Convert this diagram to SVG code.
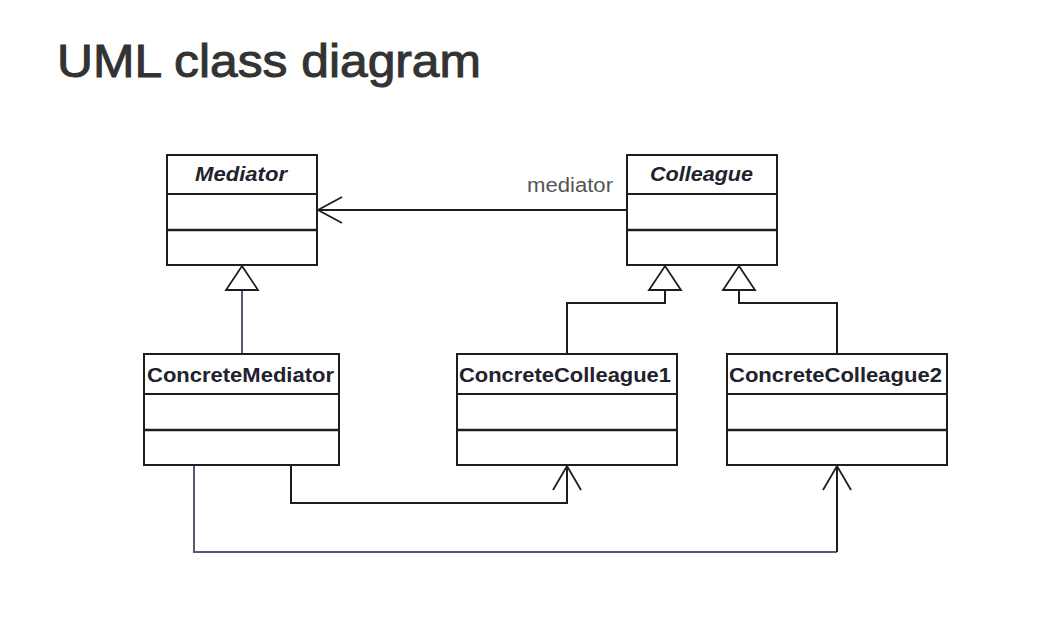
<svg xmlns="http://www.w3.org/2000/svg" width="1050" height="630" viewBox="0 0 1050 630">
<style>
.box{fill:#fff;stroke:#1e1e1e;stroke-width:2}
.div{stroke:#1e1e1e;stroke-width:2}
.div2{stroke:#1e1e1e;stroke-width:2.6}
.cn{font-family:"Liberation Sans",Arial,sans-serif;font-weight:bold;font-size:20px;fill:#22222e}
.abs{font-style:italic}
.ln{fill:none;stroke:#1e1e1e;stroke-width:2}
.ln2{fill:none;stroke:#555a72;stroke-width:2}
.tri{fill:#fff;stroke:#1e1e1e;stroke-width:1.8}
.arr{fill:none;stroke:#1e1e1e;stroke-width:1.8}
</style>
<rect width="1050" height="630" fill="#fff"/>
<text x="57" y="77" font-family="'Liberation Sans',Arial,sans-serif" font-size="46" fill="#333" stroke="#333" stroke-width="1" textLength="424" lengthAdjust="spacingAndGlyphs">UML class diagram</text>

<g id="connectors">
  <path class="ln" d="M627 210 H319"/>
  <path class="arr" d="M342 197 L318 210 L342 223"/>
  <text x="527" y="192" font-family="'Liberation Sans',Arial,sans-serif" font-size="20" fill="#555" textLength="86" lengthAdjust="spacingAndGlyphs">mediator</text>
  <path class="ln2" d="M242 290 V354"/>
  <path class="tri" d="M242 266 L258 290 L226 290 Z"/>
  <path class="ln" d="M665 290 V303 H567 V354"/>
  <path class="tri" d="M665 266 L681 290 L649 290 Z"/>
  <path class="ln" d="M739 290 V303 H837 V354"/>
  <path class="tri" d="M739 266 L755 290 L723 290 Z"/>
  <path class="ln" d="M291 465 V503 H567 V466"/>
  <path class="arr" d="M553 490 L567 466 L581 490"/>
  <path class="ln2" d="M194 465 V552 H837"/>
  <path class="ln" d="M837 552 V466"/>
  <path class="arr" d="M823 490 L837 466 L851 490"/>
</g>

<g id="Mediator">
  <rect class="box" x="167" y="155" width="150" height="110"/>
  <line class="div" x1="167" y1="194" x2="317" y2="194"/>
  <line class="div2" x1="167" y1="230" x2="317" y2="230"/>
  <text class="cn abs" x="195" y="181" textLength="92" lengthAdjust="spacingAndGlyphs">Mediator</text>
</g>
<g id="Colleague">
  <rect class="box" x="627" y="155" width="150" height="110"/>
  <line class="div" x1="627" y1="194" x2="777" y2="194"/>
  <line class="div2" x1="627" y1="230" x2="777" y2="230"/>
  <text class="cn abs" x="650" y="181" textLength="103" lengthAdjust="spacingAndGlyphs">Colleague</text>
</g>
<g id="ConcreteMediator">
  <rect class="box" x="144" y="354" width="195" height="111"/>
  <line class="div" x1="144" y1="394" x2="339" y2="394"/>
  <line class="div2" x1="144" y1="430" x2="339" y2="430"/>
  <text class="cn" x="147" y="382" textLength="187" lengthAdjust="spacingAndGlyphs">ConcreteMediator</text>
</g>
<g id="ConcreteColleague1">
  <rect class="box" x="457" y="354" width="220" height="111"/>
  <line class="div" x1="457" y1="394" x2="677" y2="394"/>
  <line class="div2" x1="457" y1="430" x2="677" y2="430"/>
  <text class="cn" x="459" y="382" textLength="212" lengthAdjust="spacingAndGlyphs">ConcreteColleague1</text>
</g>
<g id="ConcreteColleague2">
  <rect class="box" x="727" y="354" width="220" height="111"/>
  <line class="div" x1="727" y1="394" x2="947" y2="394"/>
  <line class="div2" x1="727" y1="430" x2="947" y2="430"/>
  <text class="cn" x="729" y="382" textLength="213" lengthAdjust="spacingAndGlyphs">ConcreteColleague2</text>
</g>
</svg>
